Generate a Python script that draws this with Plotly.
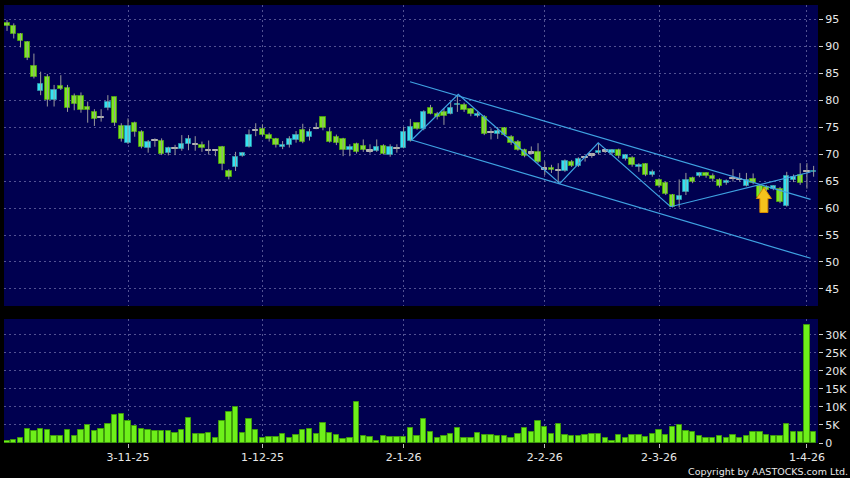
import plotly.graph_objects as go

# ---------------- data ----------------
opens = [94.2, 93.8, 92.2, 90.7, 86.3, 81.7, 84.2, 80.0, 82.6, 82.2,
         80.8, 80.8, 78.8, 77.7, 76.8, 78.6, 80.5, 75.25, 71.97, 75.7,
         74.0, 71.05, 72.5, 72.5, 70.25, 71.0, 71.0, 71.85, 71.7, 71.6,
         70.7, 70.6, 71.3, 66.85, 67.65, 69.6, 71.35, 74.4, 74.55, 73.6,
         72.7, 71.3, 71.6, 72.6, 74.4, 73.2, 74.7, 76.8, 74.1, 73.1,
         72.7, 70.7, 71.8, 71.5, 70.55, 70.55, 71.5, 69.9, 71.05, 71.2,
         72.5, 75.7, 74.6, 78.5, 77.5, 77.8, 77.5, 79.1, 79.1, 78.3,
         77.0, 76.9, 74.0, 73.8, 74.75, 73.2, 72.3, 70.7, 70.2, 70.4,
         67.2, 67.4, 67.0, 66.9, 68.6, 67.8, 69.3, 69.8, 70.1, 70.55,
         70.1, 70.7, 69.0, 69.2, 67.6, 68.1, 66.1, 65.2, 64.6, 62.4,
         61.4, 63.0, 65.5, 65.9, 66.4, 66.0, 65.2, 64.6, 65.5, 65.3,
         64.1, 65.3, 64.0, 63.8, 63.6, 63.5, 60.4, 65.1, 66.1, 66.7,
         66.6]
highs = [94.8, 94.2, 92.4, 90.9, 88.6, 85.25, 84.8, 82.8, 84.6, 82.8,
         81.2, 81.4, 79.7, 78.3, 78.3, 80.9, 80.6, 75.7, 76.6, 76.0,
         74.4, 72.6, 72.9, 72.9, 71.35, 71.7, 73.5, 73.5, 73.3, 72.3,
         72.5, 70.7, 71.5, 67.2, 70.4, 70.3, 74.55, 75.7, 75.5, 73.95,
         73.0, 72.4, 73.3, 74.25, 75.6, 74.7, 75.8, 76.8, 74.9, 73.6,
         73.0, 71.8, 72.1, 72.7, 71.8, 72.7, 71.8, 71.8, 71.8, 75.0,
         76.5, 75.8, 78.1, 79.1, 77.8, 78.5, 79.7, 80.9, 79.5, 78.5,
         77.8, 77.2, 74.75, 75.0, 75.0, 73.5, 72.6, 71.0, 71.4, 72.0,
         68.6, 68.0, 68.3, 69.0, 68.9, 69.4, 69.6, 70.2, 72.0, 71.0,
         70.9, 71.0, 70.0, 69.6, 68.3, 68.3, 67.1, 65.5, 64.9, 62.6,
         65.3, 66.5, 65.8, 66.6, 66.6, 66.4, 65.5, 65.3, 67.2, 66.5,
         66.5, 66.4, 64.3, 64.2, 64.2, 63.9, 66.7, 66.2, 68.3, 68.3,
         67.8]
lows = [92.8, 91.4, 89.75, 87.4, 84.0, 80.9, 78.8, 78.8, 81.85, 77.8,
        78.1, 77.65, 75.8, 75.2, 76.0, 78.1, 75.2, 72.3, 71.85, 73.2,
        71.05, 70.25, 71.35, 69.8, 69.75, 69.8, 70.6, 70.7, 70.6, 70.4,
        69.9, 69.6, 67.0, 65.3, 66.85, 69.5, 71.2, 73.3, 73.3, 72.3,
        71.2, 70.9, 71.2, 72.1, 72.0, 72.5, 74.6, 74.4, 72.1, 71.65,
        69.6, 69.6, 70.1, 70.4, 70.1, 70.4, 69.9, 69.5, 70.25, 71.05,
        72.3, 74.5, 74.4, 77.35, 76.4, 75.4, 77.35, 77.8, 77.8, 77.0,
        76.8, 73.5, 72.7, 72.8, 73.3, 71.7, 70.6, 69.4, 69.9, 68.3,
        66.1, 66.5, 64.6, 66.7, 67.6, 67.6, 68.6, 69.3, 69.9, 70.2,
        69.9, 69.2, 68.8, 67.65, 66.7, 65.9, 65.8, 63.8, 62.4, 60.1,
        60.1, 62.4, 64.6, 65.7, 65.6, 64.9, 63.8, 64.3, 64.9, 64.9,
        64.0, 64.4, 61.8, 63.0, 63.3, 60.9, 60.25, 64.8, 64.3, 63.6,
        65.8]
closes = [93.8, 92.2, 91.0, 87.8, 84.3, 83.0, 80.0, 81.85, 82.0, 78.6,
          79.2, 78.1, 78.1, 76.4, 76.8, 79.7, 75.7, 72.7, 75.25, 74.0,
          71.35, 72.3, 72.5, 70.0, 71.2, 71.1, 71.8, 72.7, 71.7, 71.05,
          70.7, 70.6, 68.1, 65.8, 69.5, 70.2, 73.45, 74.4, 73.6, 72.7,
          71.6, 71.65, 72.7, 73.6, 72.3, 74.1, 74.8, 74.8, 72.3, 72.1,
          70.7, 71.3, 70.4, 70.7, 70.55, 71.3, 70.05, 71.3, 71.05, 74.0,
          75.0, 74.6, 77.7, 77.5, 76.9, 77.0, 78.6, 79.3, 78.1, 77.35,
          77.5, 73.7, 74.0, 74.3, 73.5, 72.0, 70.7, 69.6, 70.2, 68.6,
          67.2, 67.1, 67.0, 68.7, 67.8, 69.0, 69.3, 69.8, 70.6, 70.55,
          70.7, 69.6, 69.8, 68.0, 67.9, 66.1, 66.6, 64.1, 62.6, 60.25,
          62.3, 65.2, 64.75, 66.4, 65.9, 65.3, 64.1, 65.0, 65.5, 65.3,
          65.2, 64.7, 62.1, 63.3, 64.0, 61.2, 66.0, 65.8, 64.6, 66.8,
          66.9]
volumes = [550, 900, 1500, 3800, 3300, 3800, 3600, 1850, 1950, 3700,
           1850, 3600, 5000, 3300, 3900, 5400, 7900, 8100, 6100, 4600,
           4000, 3500, 3200, 3200, 3300, 2900, 3600, 7000, 2500, 2600,
           2900, 1500, 6100, 8600, 9900, 2900, 6700, 3700, 1300, 1800,
           1800, 2500, 1500, 2100, 3600, 3800, 2600, 5600, 2800, 2300,
           1200, 1500, 11300, 2000, 1600, 550, 1900, 1700, 1700, 1700,
           4300, 1900, 6600, 3000, 1300, 2000, 2400, 4200, 1500, 1500,
           2800, 2100, 2200, 1850, 1850, 1400, 2600, 4200, 3100, 6200,
           4500, 2500, 5300, 2100, 1850, 2000, 2300, 2500, 2500, 1400,
           650, 2100, 1300, 2300, 2300, 1750, 2600, 3500, 2300, 4500,
           5100, 3400, 3000, 1950, 1300, 1300, 1950, 1400, 2100, 1400,
           1950, 3000, 3000, 2300, 2000, 2000, 5300, 3100, 3000, 32700,
           3100]

tick_idx = [18, 38, 59, 80, 97, 119]
tick_text = ['3-11-25', '1-12-25', '2-1-26', '2-2-26', '2-3-26', '1-4-26']
price_ticks = [45, 50, 55, 60, 65, 70, 75, 80, 85, 90, 95]
vol_ticks = [0, 5000, 10000, 15000, 20000, 25000, 30000]
vol_tick_text = ['0', '5K', '10K', '15K', '20K', '25K', '30K']

# drawn trend lines (bar index, price)
upper_x = [59.95, 119.55]
upper_y = [83.39, 61.61]
lower_x = [60.2, 119.55]
lower_y = [72.6, 50.69]
zig_x = [60.2, 67.13, 82.25, 87.95, 98.72, 119.55]
zig_y = [72.6, 81.06, 64.57, 72.09, 60.24, 66.67]
arrow_x = 112.6
arrow_tip = 63.8

# ---------------- styling ----------------
NAVY = '#000050'
GRID = 'rgba(150,150,200,0.55)'
UP_FILL, UP_LINE = '#33e3f2', '#2a8fa8'
DN_FILL, DN_LINE = '#7be81e', '#4a9a12'
DOJI = '#b4b4b4'
WICK = '#9a9a9a'
LINE_C = '#3fa2e2'
FONT = 'DejaVu Sans'

n = len(opens)
idx = list(range(n))
x_range = [-0.45, 120.65]
y_range = [41.85, 97.6]

fig = go.Figure()

# wicks
wx, wy = [], []
for i in idx:
    wx += [i, i, None]
    wy += [lows[i], highs[i], None]
fig.add_trace(go.Scatter(x=wx, y=wy, mode='lines', line=dict(color=WICK, width=1),
                         hoverinfo='skip', showlegend=False, xaxis='x', yaxis='y'))

# bodies
bases, heights, fills, edges = [], [], [], []
for i in idx:
    o, c = opens[i], closes[i]
    lo, hi = min(o, c), max(o, c)
    if hi - lo < 0.15:
        mid = (o + c) / 2
        bases.append(mid - 0.12)
        heights.append(0.24)
        fills.append(DOJI)
        edges.append(DOJI)
    else:
        bases.append(lo)
        heights.append(hi - lo)
        if c > o:
            fills.append(UP_FILL)
            edges.append(UP_LINE)
        else:
            fills.append(DN_FILL)
            edges.append(DN_LINE)
fig.add_trace(go.Bar(x=idx, y=heights, base=bases, width=0.8,
                     marker=dict(color=fills, line=dict(color=edges, width=1)),
                     showlegend=False, hoverinfo='skip', xaxis='x', yaxis='y'))

# trend lines
for lx, ly in [(upper_x, upper_y), (lower_x, lower_y), (zig_x, zig_y)]:
    fig.add_trace(go.Scatter(x=lx, y=ly, mode='lines', line=dict(color=LINE_C, width=1.2),
                             showlegend=False, hoverinfo='skip', xaxis='x', yaxis='y'))

# volume
fig.add_trace(go.Bar(x=idx, y=volumes, width=0.8,
                     marker=dict(color='#6ef01a', line=dict(color='#3f9a0c', width=1)),
                     showlegend=False, hoverinfo='skip', xaxis='x2', yaxis='y2'))

# arrow (block arrow built around its tip, sizes in pixels)
plot_w, main_h = 814.0, 301.0
ux = (x_range[1] - x_range[0]) / plot_w
uy = (y_range[1] - y_range[0]) / main_h
hw, hh, sw, sl = 7.5, 11, 4, 14
pts = [(0, 0), (hw, -hh), (sw, -hh), (sw, -hh - sl), (-sw, -hh - sl), (-sw, -hh), (-hw, -hh)]
path = ''
for k, (dx, dy) in enumerate(pts):
    path += ('M' if k == 0 else 'L') + f'{arrow_x + dx * ux},{arrow_tip + dy * uy} '
path += 'Z'
fig.add_shape(type='path', path=path, xref='x', yref='y',
              fillcolor='#f6c21c', line=dict(color='#d88a00', width=1))

axis_common = dict(showline=False, zeroline=False, gridcolor=GRID, griddash='2px,3px',
                   gridwidth=1)
fig.update_layout(
    width=850, height=478,
    paper_bgcolor='#000000', plot_bgcolor=NAVY,
    margin=dict(l=4, r=32, t=5, b=35),
    barmode='overlay', bargap=0,
    font=dict(family=FONT, color='#e8e8e8', size=11),
    xaxis=dict(domain=[0, 1], range=x_range, anchor='y', tickvals=tick_idx, ticktext=tick_text,
               showticklabels=False, ticks='', **axis_common),
    yaxis=dict(domain=[0.3128, 1], range=y_range, side='right', tickvals=price_ticks,
               ticks='outside', ticklen=4, tickcolor='#cfcfcf', tickfont=dict(size=11),
               **axis_common),
    xaxis2=dict(domain=[0, 1], range=x_range, anchor='y2', matches='x', tickvals=tick_idx,
                ticktext=tick_text, ticks='outside', ticklen=4, tickcolor='#bdbdbd',
                tickfont=dict(size=11), **axis_common),
    yaxis2=dict(domain=[0, 0.2831], range=[0, 34400], side='right', tickvals=vol_ticks,
                ticktext=vol_tick_text, ticks='outside', ticklen=4, tickcolor='#cfcfcf',
                tickfont=dict(size=11), **axis_common),
    showlegend=False,
)
fig.add_annotation(text='Copyright by AASTOCKS.com Ltd.', xref='paper', yref='paper',
                   x=0.8378, y=-0.064, xanchor='left', yanchor='middle', showarrow=False,
                   font=dict(family=FONT, size=9.5, color='#e8e8e8'))

fig.write_html('out.html', config={'displayModeBar': False},
               post_script="document.body.style.margin='0';document.body.style.background='#000';")
